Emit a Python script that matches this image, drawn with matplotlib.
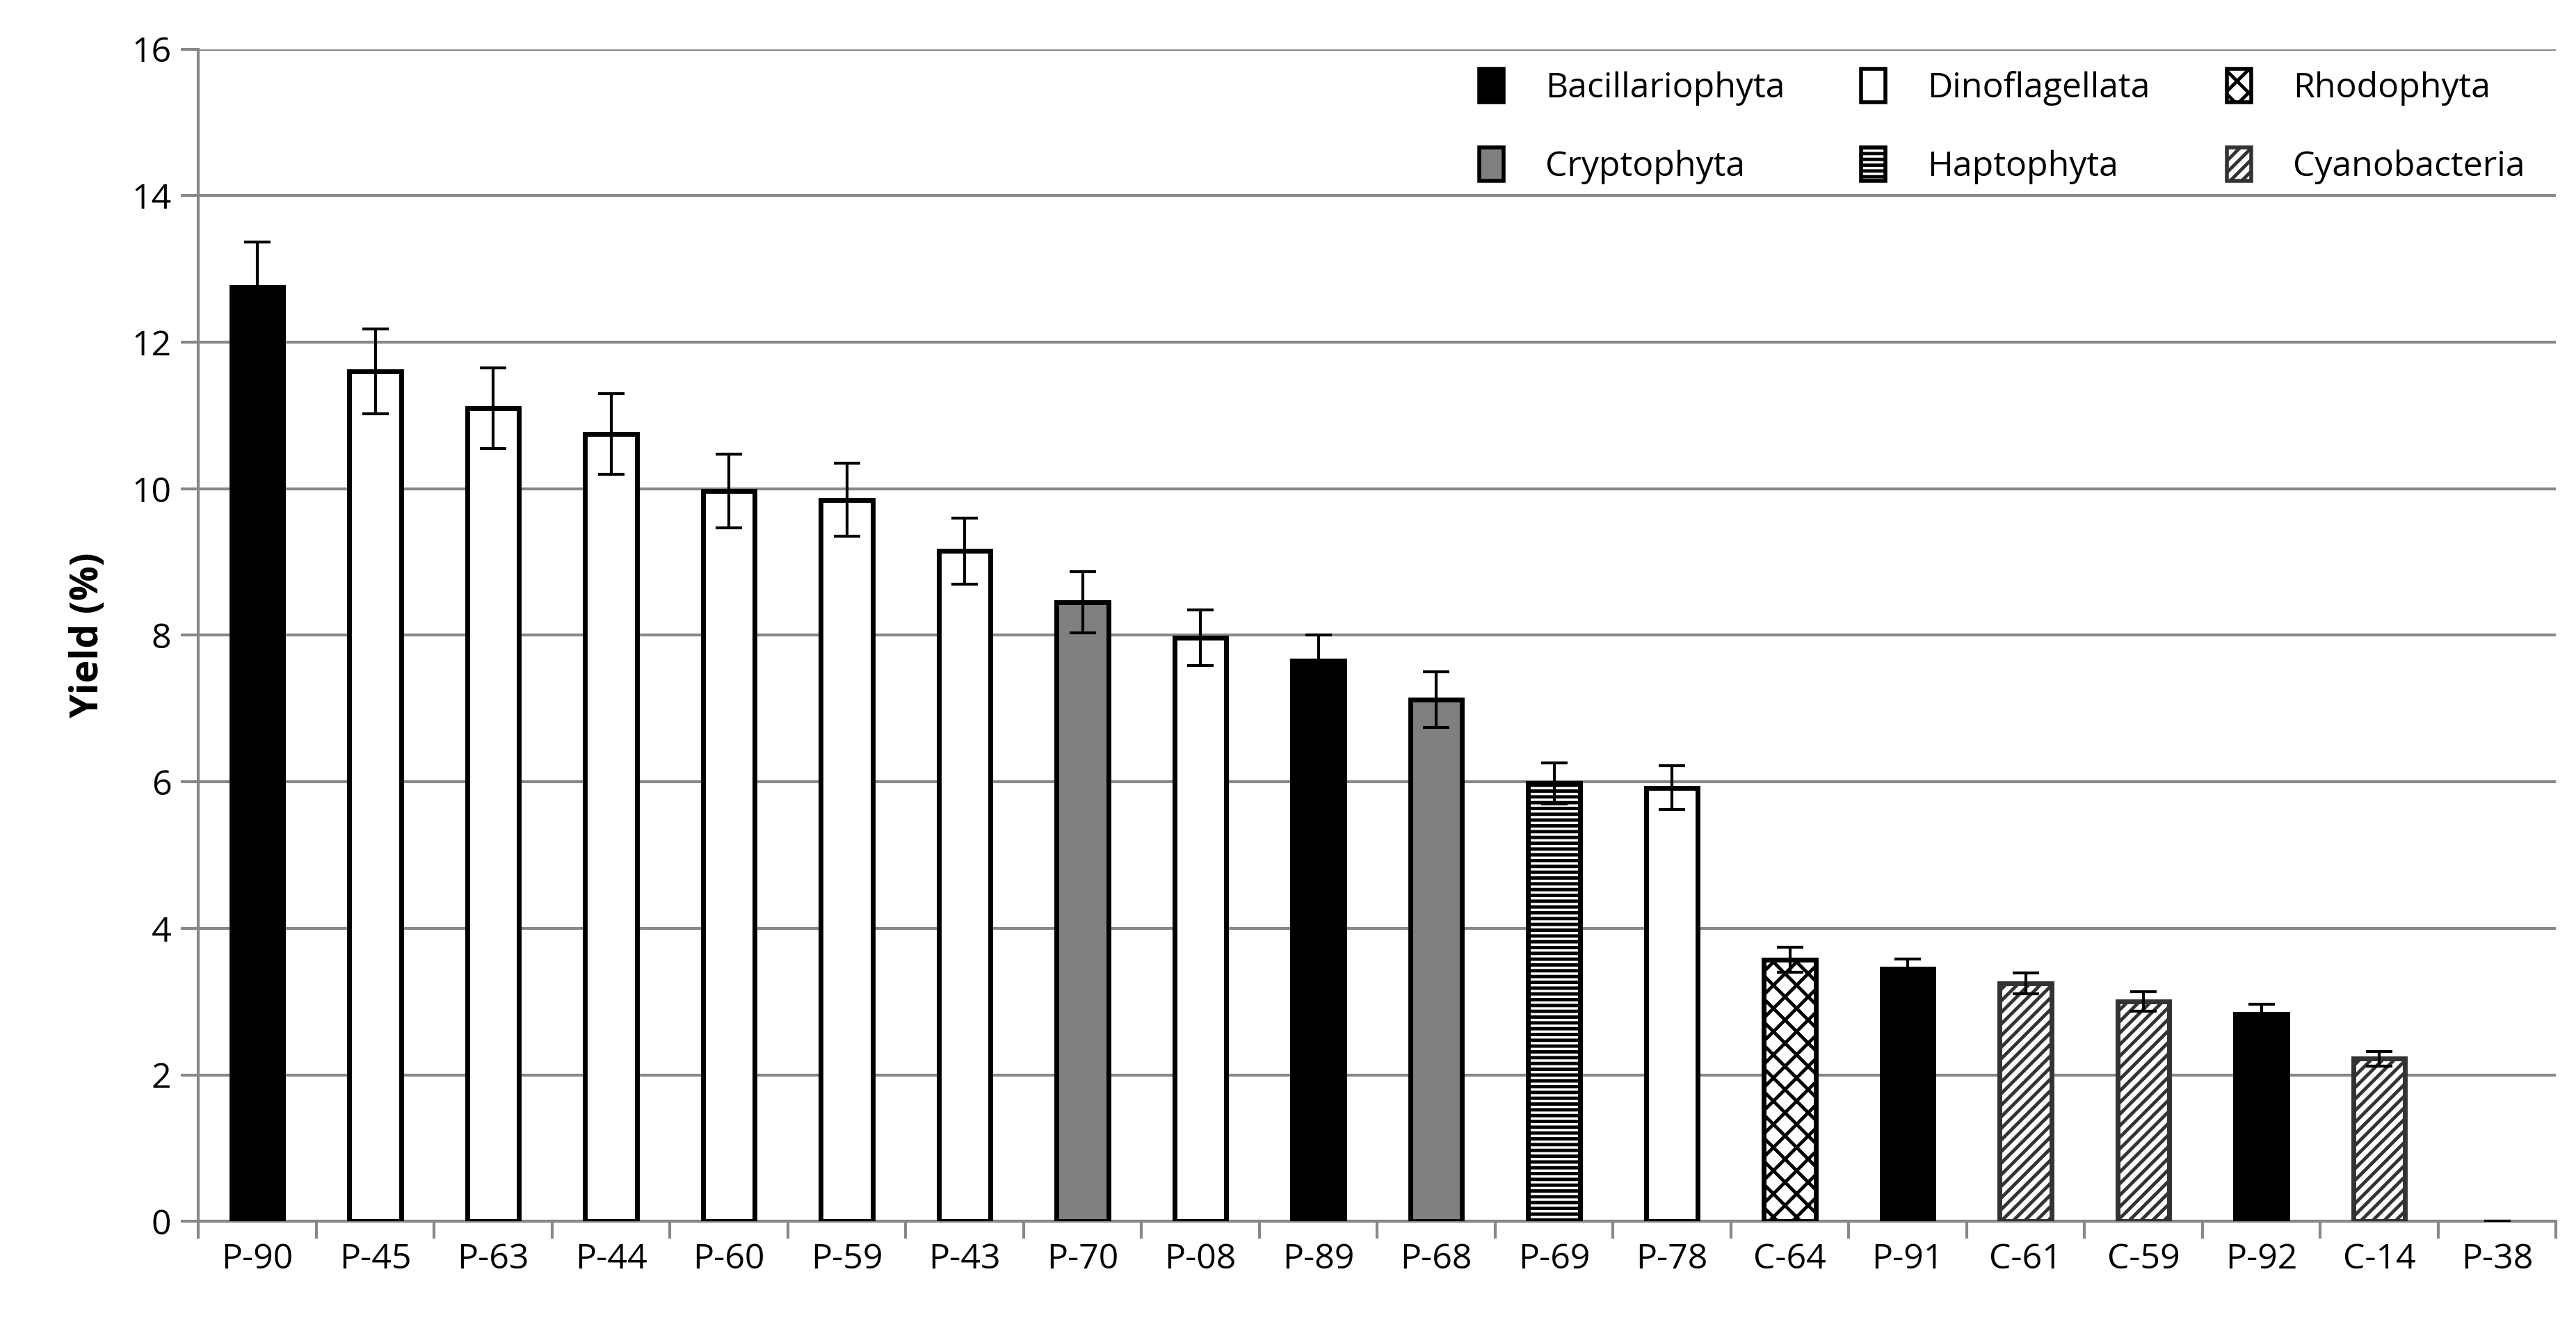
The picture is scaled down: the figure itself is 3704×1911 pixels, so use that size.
import matplotlib.pyplot as plt
from matplotlib.patches import Patch

plt.rcParams['font.family'] = ['Open Sans', 'DejaVu Sans']
plt.rcParams['hatch.linewidth'] = 3.5

# 데이터
strains = ['P-90', 'P-45', 'P-63', 'P-44', 'P-60', 'P-59', 'P-43', 'P-70', 'P-08', 'P-89',
           'P-68', 'P-69', 'P-78', 'C-64', 'P-91', 'C-61', 'C-59', 'P-92', 'C-14', 'P-38']
yields = [12.75, 11.6, 11.1, 10.75, 9.97, 9.85, 9.15, 8.45, 7.97, 7.65,
          7.12, 5.98, 5.92, 3.57, 3.45, 3.25, 3.0, 2.83, 2.22, 0]
errors = [0.62, 0.58, 0.55, 0.55, 0.5, 0.5, 0.45, 0.42, 0.38, 0.35,
          0.38, 0.28, 0.3, 0.17, 0.13, 0.14, 0.13, 0.13, 0.1, 0]
groups = ['Bac', 'Din', 'Din', 'Din', 'Din', 'Din', 'Din', 'Cry', 'Din', 'Bac',
          'Cry', 'Hap', 'Din', 'Rho', 'Bac', 'Cya', 'Cya', 'Bac', 'Cya', 'Bac']

styles = {
    'Bac': dict(label='Bacillariophyta', facecolor='black', edgecolor='black', hatch=None),
    'Din': dict(label='Dinoflagellata', facecolor='white', edgecolor='black', hatch=None),
    'Rho': dict(label='Rhodophyta', facecolor='white', edgecolor='black', hatch='x'),
    'Cry': dict(label='Cryptophyta', facecolor='#808080', edgecolor='black', hatch=None),
    'Hap': dict(label='Haptophyta', facecolor='white', edgecolor='black', hatch='--'),
    'Cya': dict(label='Cyanobacteria', facecolor='white', edgecolor='#333333', hatch='//'),
}

fig = plt.figure(figsize=(37.05, 19.11), dpi=100)
ax = fig.add_axes([0.077, 0.081, 0.915, 0.882])

x = range(len(strains))
for i in x:
    s = styles[groups[i]]
    ax.bar(i, yields[i], width=0.44, color=s['facecolor'], edgecolor=s['edgecolor'],
           hatch=s['hatch'], linewidth=5 if yields[i] > 0 else 0, zorder=3)
ax.errorbar(list(x), yields, yerr=errors, fmt='none', ecolor='black', elinewidth=3,
            capsize=14, capthick=3, zorder=4)

ax.set_xlim(-0.5, len(strains) - 0.5)
ax.set_ylim(0, 16)
ax.set_yticks(range(0, 17, 2))
ax.set_xticks(list(x))
ax.set_xticklabels(strains)
ax.set_xticks([i + 0.5 for i in range(-1, len(strains))], minor=True)
ax.tick_params(axis='x', which='major', length=0, pad=22, labelsize=36)
ax.tick_params(axis='x', which='minor', length=18, width=3, color='#888888')
ax.tick_params(axis='y', length=18, width=3, color='#888888', labelsize=36, pad=10)
ax.grid(axis='y', color='#888888', linewidth=3, zorder=0)
ax.set_axisbelow(True)
for side in ['top', 'right']:
    ax.spines[side].set_visible(False)
for side in ['left', 'bottom']:
    ax.spines[side].set_color('#888888')
    ax.spines[side].set_linewidth(3)
ax.set_ylabel('Yield (%)', fontsize=40, fontweight='bold', labelpad=25)

order = ['Bac', 'Cry', 'Din', 'Hap', 'Rho', 'Cya']
handles = [Patch(facecolor=styles[k]['facecolor'], edgecolor=styles[k]['edgecolor'],
                 hatch=styles[k]['hatch'], linewidth=4, label=styles[k]['label']) for k in order]
ax.legend(handles=handles, ncol=3, loc='upper right', bbox_to_anchor=(1.0, 1.01),
          frameon=False, fontsize=36, handlelength=0.7, handleheight=1.1,
          columnspacing=2.2, labelspacing=1.2, handletextpad=1.2)

fig.savefig('out.png', dpi=100, facecolor='white')
